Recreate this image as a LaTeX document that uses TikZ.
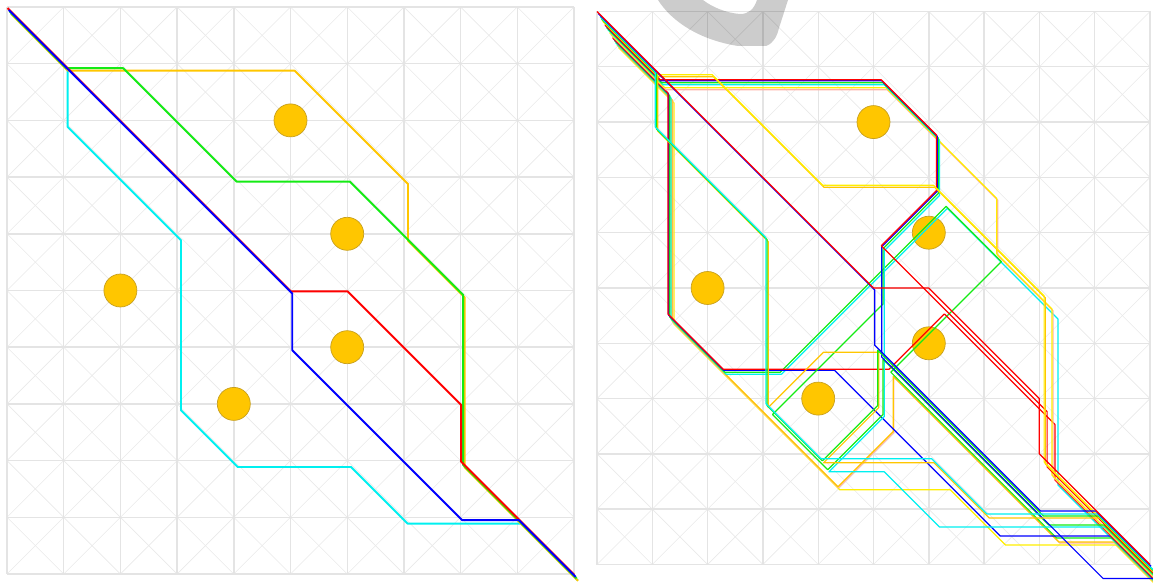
\documentclass[tikz,border=0pt]{standalone}
\usetikzlibrary{math}
\definecolor{qgrid}{RGB}{228,228,228}
\definecolor{qdiag}{RGB}{233,233,233}
\definecolor{qgold}{RGB}{255,198,0}
\definecolor{qgoldd}{RGB}{200,160,30}
\definecolor{qred}{RGB}{255,0,0}
\definecolor{qblue}{RGB}{0,0,255}
\definecolor{qgreen}{RGB}{20,235,20}
\definecolor{qcyan}{RGB}{0,240,240}
\definecolor{qyellow}{RGB}{255,238,0}
\definecolor{qpink}{RGB}{255,178,168}
\tikzset{
 lgrid/.style={shift={(7+0.6*#1,7+#1)},x=1.134cm,y=-1.134cm},
 rgrid/.style={shift={(597+0.6*#1,11.5+#1)},x=1.106cm,y=-1.106cm},
 lroute/.style={line width=1.1pt,line join=round,draw=#1},
 rroute/.style={line width=0.7pt,line join=round,draw=#1},
}

\begin{document}
\begin{tikzpicture}[x=0.02cm,y=-0.02cm]
\tikzmath{
\Lc=56.7;
\Rc=55.3;
\Rd=16.5;
}
\useasboundingbox (0,0) rectangle (1153,587);
\clip (0,0) rectangle (1153,587);

%grids:
\foreach \ox/\oy/\c in {7/7/\Lc, 597/11.5/\Rc}{
  \foreach \i in {0,...,9}{
    \foreach \j in {0,...,9}{
      \draw[qdiag,line width=0.35pt] (\ox+\i*\c,\oy+\j*\c) -- +(\c,\c);
      \draw[qdiag,line width=0.35pt] (\ox+\i*\c+\c,\oy+\j*\c) -- +(-\c,\c);
    }
  }
  \foreach \i in {0,...,10}{
    \draw[qgrid,line width=0.8pt] (\ox+\i*\c,\oy) -- +(0,10*\c);
    \draw[qgrid,line width=0.8pt] (\ox,\oy+\i*\c) -- +(10*\c,0);
  }
}

%watermark
\fill[black,fill opacity=0.2] (658,0) .. controls (672,22) and (700,40) .. (738,46) -- (766,46) .. controls (774,43) and (777,36) .. (779,28) -- (788,0) -- (757,0) .. controls (754,9) and (749,14) .. (740,14) .. controls (726,13) and (712,7) .. (703,0) -- cycle;

%obstacles
\foreach \ox/\oy/\c in {7/7/\Lc, 597/11.5/\Rc}{
  \foreach \i/\j in {5/2,6/4,2/5,6/6,4/7}{
    \draw[qgoldd,fill=qgold,line width=0.4pt] (\ox+\i*\c,\oy+\j*\c) circle[radius=\Rd];
  }
}

%left routes
\draw[lroute=qcyan,lgrid=6.5] (0,0) -- (1,1) -- (1,2) -- (3,4) -- (3,7) -- (4,8) -- (6,8) -- (7,9) -- (9,9) -- (10,10);
\draw[lroute=qgold,lgrid=7] (0,0) -- (1,1) -- (5,1) -- (7,3) -- (7,4) -- (8,5) -- (8,8) -- (10,10);
\draw[lroute=qgreen,lgrid=4.5] (0,0) -- (1,1) -- (2,1) -- (4,3) -- (6,3) -- (8,5) -- (8,8) -- (10,10);
\draw[lroute=qred,lgrid=1] (0,0) -- (1,1) -- (5,5) -- (6,5) -- (8,7) -- (8,8) -- (10,10);
\draw[lroute=qblue,lgrid=3] (0,0) -- (5,5) -- (5,6) -- (8,9) -- (9,9) -- (10,10);

%right routes
\draw[rroute=qyellow,rgrid=36] (0,0) -- (1,1) -- (1,5) -- (4,8) -- (6,8) -- (7,9) -- (9,9) -- (10,10);
\draw[rroute=qpink,rgrid=34] (0,0) -- (1,1) -- (1,5) -- (4,8) -- (5,7) -- (5,6) -- (8,9) -- (9,9) -- (10,10);
\draw[rroute=qgold,rgrid=33] (0,0) -- (1,1) -- (1,5) -- (4,8) -- (5,7) -- (5,6) -- (8,9) -- (9,9) -- (10,10);
\draw[rroute=qcyan,rgrid=31] (0,0) -- (1,1) -- (1,5) -- (2,6) -- (3,6) -- (6,3) -- (8,5) -- (8,8) -- (10,10);
\draw[rroute=qgreen,rgrid=29] (0,0) -- (1,1) -- (1,5) -- (2,6) -- (3,6) -- (6,3) -- (7,4) -- (5,6) -- (8,9) -- (9,9) -- (10,10);
\draw[rroute=qblue,rgrid=27] (0,0) -- (1,1) -- (1,5) -- (2,6) -- (4,6) -- (7,9) -- (9,9) -- (10,10);
\draw[rroute=qred,rgrid=26] (0,0) -- (1,1) -- (1,5) -- (2,6) -- (5,6) -- (6,5) -- (8,7) -- (8,8) -- (10,10);
\draw[rroute=qpink,rgrid=23] (0,0) -- (1,1) -- (5,1) -- (7,3) -- (7,4) -- (8,5) -- (8,8) -- (10,10);
\draw[rroute=qyellow,rgrid=21] (0,0) -- (1,1) -- (5,1) -- (7,3) -- (7,4) -- (8,5) -- (8,8) -- (10,10);
\draw[rroute=qcyan,rgrid=18] (0,0) -- (1,1) -- (5,1) -- (6,2) -- (6,3) -- (5,4) -- (5,7) -- (4,8) -- (5,8) -- (6,9) -- (9,9) -- (10,10);
\draw[rroute=qgreen,rgrid=16] (0,0) -- (1,1) -- (5,1) -- (6,2) -- (6,3) -- (5,4) -- (5,5) -- (3,7) -- (4,8) -- (5,7) -- (5,6) -- (8,9) -- (9,9) -- (10,10);
\draw[rroute=qblue,rgrid=14] (0,0) -- (1,1) -- (5,1) -- (6,2) -- (6,3) -- (5,4) -- (5,6) -- (9,10) -- (10,10);
\draw[rroute=qred,rgrid=13] (0,0) -- (1,1) -- (5,1) -- (6,2) -- (6,3) -- (5,4) -- (6,5) -- (8,7) -- (8,8) -- (10,10);
\draw[rroute=qgold,rgrid=10] (0,0) -- (1,1) -- (2,1) -- (4,3) -- (6,3) -- (8,5) -- (8,8) -- (10,10);
\draw[rroute=qgold,rgrid=9] (0,0) -- (1,1) -- (1,2) -- (3,4) -- (3,7) -- (4,6) -- (5,6) -- (5,7) -- (4,8) -- (6,8) -- (7,9) -- (9,9) -- (10,10);
\draw[rroute=qyellow,rgrid=8] (0,0) -- (1,1) -- (2,1) -- (4,3) -- (6,3) -- (8,5) -- (8,8) -- (10,10);
\draw[rroute=qgreen,rgrid=7] (0,0) -- (1,1) -- (1,2) -- (3,4) -- (3,7) -- (4,8) -- (5,7) -- (5,6) -- (8,9) -- (9,9) -- (10,10);
\draw[rroute=qcyan,rgrid=5] (0,0) -- (1,1) -- (1,2) -- (3,4) -- (3,7) -- (4,8) -- (6,8) -- (7,9) -- (9,9) -- (10,10);
\draw[rroute=qblue,rgrid=2] (0,0) -- (5,5) -- (5,6) -- (8,9) -- (9,9) -- (10,10);
\draw[rroute=qred,rgrid=0] (0,0) -- (5,5) -- (6,5) -- (8,7) -- (8,8) -- (10,10);
\end{tikzpicture}
\end{document}
